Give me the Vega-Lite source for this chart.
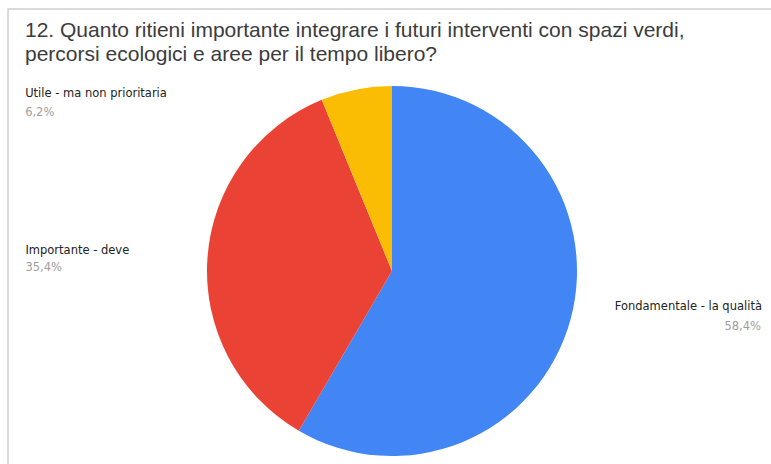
{
  "$schema": "https://vega.github.io/schema/vega-lite/v6.json",
  "width": 768,
  "height": 524,
  "autosize": {"type": "none"},
  "padding": {"left": 8, "top": 9, "right": -5, "bottom": -69},
  "background": "white",
  "view": {"stroke": "#cfcfcf", "strokeWidth": 1.5},
  "config": {
    "view": {"stroke": "#cfcfcf", "strokeWidth": 1.5},
    "locale": {"number": {"decimal": ",", "thousands": ".", "grouping": [3], "currency": ["€", ""]}}
  },
  "title": {
    "text": ["12. Quanto ritieni importante integrare i futuri interventi con spazi verdi,", "percorsi ecologici e aree per il tempo libero?"],
    "anchor": "start",
    "frame": "group",
    "orient": "top",
    "baseline": "top",
    "offset": -56,
    "dx": 17,
    "font": "Liberation Sans",
    "fontSize": 21,
    "fontWeight": "normal",
    "color": "#3c3c3c",
    "lineHeight": 24
  },
  "data": {
    "values": [
      {"risposta": "Fondamentale - la qualità", "quota": 0.584},
      {"risposta": "Importante - deve", "quota": 0.354},
      {"risposta": "Utile - ma non prioritaria", "quota": 0.062}
    ]
  },
  "encoding": {
    "theta": {"field": "quota", "type": "quantitative", "stack": true},
    "order": {"field": "quota", "type": "quantitative", "sort": "descending"}
  },
  "layer": [
    {
      "mark": {"type": "arc", "outerRadius": 185},
      "encoding": {
        "color": {
          "field": "risposta",
          "type": "nominal",
          "scale": {
            "domain": ["Fondamentale - la qualità", "Importante - deve", "Utile - ma non prioritaria"],
            "range": ["#4285F4", "#EA4335", "#FBBC04"]
          },
          "legend": null
        }
      }
    },
    {
      "mark": {"type": "text", "radius": 175, "align": "right", "baseline": "middle", "dx": 201, "dy": -10, "font": "DejaVu Sans", "fontSize": 11.5, "color": "#222222"},
      "encoding": {"text": {"condition": {"test": "datum.risposta === 'Fondamentale - la qualità'", "field": "risposta"}, "value": ""}}
    },
    {
      "mark": {"type": "text", "radius": 175, "align": "right", "baseline": "middle", "dx": 200, "dy": 10, "font": "DejaVu Sans", "fontSize": 11.5, "color": "#9e9e9e"},
      "encoding": {"text": {"condition": {"test": "datum.risposta === 'Fondamentale - la qualità'", "field": "quota", "type": "quantitative", "format": ".1%"}, "value": ""}}
    },
    {
      "mark": {"type": "text", "radius": 175, "align": "left", "baseline": "middle", "dx": -192, "dy": -8, "font": "DejaVu Sans", "fontSize": 11.5, "color": "#222222"},
      "encoding": {"text": {"condition": {"test": "datum.risposta === 'Importante - deve'", "field": "risposta"}, "value": ""}}
    },
    {
      "mark": {"type": "text", "radius": 175, "align": "left", "baseline": "middle", "dx": -192, "dy": 9, "font": "DejaVu Sans", "fontSize": 11.5, "color": "#9e9e9e"},
      "encoding": {"text": {"condition": {"test": "datum.risposta === 'Importante - deve'", "field": "quota", "type": "quantitative", "format": ".1%"}, "value": ""}}
    },
    {
      "mark": {"type": "text", "radius": 175, "align": "left", "baseline": "middle", "dx": -333, "dy": -5, "font": "DejaVu Sans", "fontSize": 11.5, "color": "#222222"},
      "encoding": {"text": {"condition": {"test": "datum.risposta === 'Utile - ma non prioritaria'", "field": "risposta"}, "value": ""}}
    },
    {
      "mark": {"type": "text", "radius": 175, "align": "left", "baseline": "middle", "dx": -333, "dy": 14, "font": "DejaVu Sans", "fontSize": 11.5, "color": "#9e9e9e"},
      "encoding": {"text": {"condition": {"test": "datum.risposta === 'Utile - ma non prioritaria'", "field": "quota", "type": "quantitative", "format": ".1%"}, "value": ""}}
    }
  ]
}
